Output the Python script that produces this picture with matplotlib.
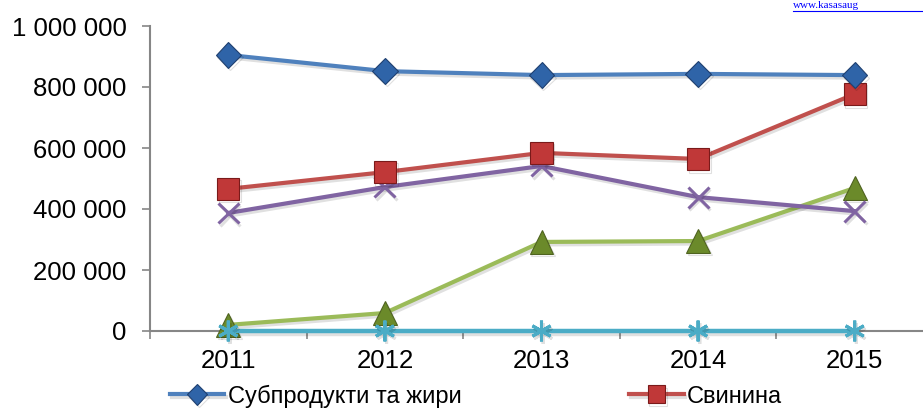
import matplotlib
matplotlib.use("Agg")
import matplotlib.pyplot as plt
import matplotlib.patheffects as pe
from matplotlib.ticker import FuncFormatter, FixedLocator

years = ["2011", "2012", "2013", "2014", "2015"]
subproducts = [905000, 852000, 839000, 843000, 839000]
pork = [466000, 521000, 584000, 564000, 777000]
series_purple = [387000, 472000, 541000, 439000, 393000]
series_green = [20000, 59000, 292000, 295000, 469000]
series_cyan = [0, 0, 0, 0, 0]
label_sub = "Субпродукти та жири"
label_pork = "Свинина"
source_text = "www.kasasaug"

plt.rcParams['font.family'] = ['Liberation Sans', 'DejaVu Sans']
FS = 18.5

fig = plt.figure(figsize=(9.23, 4.09), dpi=100)
ax = fig.add_axes([150/923, 1-331/409, 5*156.6/923, 305/409])

x = list(range(len(years)))
shadow = [pe.SimpleLineShadow(offset=(1.2, -1.8), alpha=0.12), pe.Normal()]

ax.plot(x, series_green, color='#9BBB59', lw=3, marker='^', ms=17, mfc='#6B8A2A',
        mec='#4F6320', mew=0.8, zorder=4, path_effects=shadow, clip_on=False)
ax.plot(x, series_purple, color='#8064A2', lw=3, marker='x', ms=15, mew=2.2,
        mec='#8064A2', zorder=4, path_effects=shadow)
l2, = ax.plot(x, pork, color='#C0504D', lw=3, marker='s', ms=16, mfc='#C03838',
              mec='#7A1A1A', mew=0.8, zorder=5, path_effects=shadow, label=label_pork)
l1, = ax.plot(x, subproducts, color='#4F81BD', lw=3, marker='D', ms=13, mfc='#2F64A8',
              mec='#1F4070', mew=0.8, zorder=6, path_effects=shadow, label=label_sub)
ax.plot(x, series_cyan, color='#4BACC6', lw=3.2, marker=(6, 2, 0), ms=15, mew=2.2,
        mec='#4BACC6', zorder=7, path_effects=shadow, clip_on=False)

ax.set_xlim(-0.5, 4.5)
ax.set_ylim(0, 1000000)
ax.yaxis.set_major_locator(FixedLocator([0, 200000, 400000, 600000, 800000, 1000000]))
ax.yaxis.set_major_formatter(FuncFormatter(lambda v, p: f"{int(v):,}".replace(",", " ")))
ax.set_xticks(x)
ax.set_xticklabels(years)
ax.xaxis.set_minor_locator(FixedLocator([-0.5, 0.5, 1.5, 2.5, 3.5, 4.5]))
ax.tick_params(axis='x', which='major', length=0, pad=13, labelsize=FS)
ax.tick_params(axis='x', which='minor', length=6, width=1.2, color='#868686', direction='out')
ax.tick_params(axis='y', length=6, width=1.2, color='#868686', labelsize=FS, pad=11)

for s in ['top', 'right']:
    ax.spines[s].set_visible(False)
for s in ['left', 'bottom']:
    ax.spines[s].set_color('#868686')
    ax.spines[s].set_linewidth(1.5)

fig.legend(handles=[l1, l2], loc='center left', bbox_to_anchor=(170/923, 1-396/409),
           ncol=2, frameon=False, fontsize=17, handlelength=2.3, handletextpad=0.15,
           columnspacing=7.1, borderpad=0, borderaxespad=0, markerscale=0.8)

fig.text(793/923, 1-1/409, source_text, color='#0000FF', fontsize=8, va='top',
         ha='left', family=['Liberation Serif', 'DejaVu Serif'])
fig.add_artist(plt.Line2D([793/923, 1.0], [1-11/409, 1-11/409], color='#0000FF', lw=0.8))

fig.savefig("out.png", dpi=100)
